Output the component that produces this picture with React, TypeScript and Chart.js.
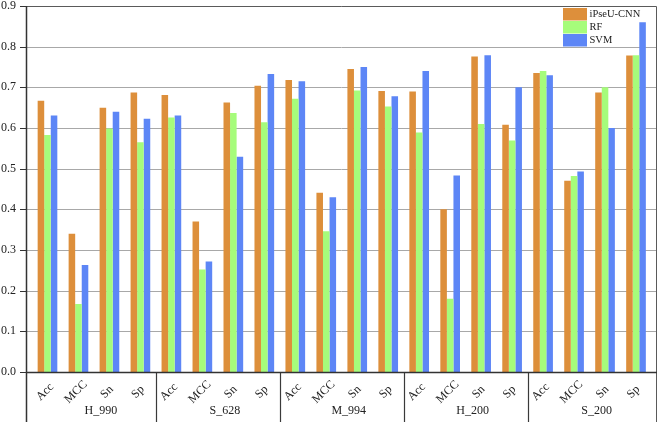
import React, { useEffect, useRef } from "react";
import { Chart, registerables } from "chart.js";

Chart.register(...registerables);

const groups = ["H_990", "S_628", "M_994", "H_200", "S_200"];
const metrics = ["Acc", "MCC", "Sn", "Sp"];
const categories = groups.flatMap(() => metrics);

const seriesNames = ["iPseU-CNN", "RF", "SVM"];
const seriesColors = ["#dd8f3b", "#a6fc7b", "#5d86f6"];

const ipseuCnn = [
  0.667, 0.34, 0.65, 0.687,
  0.681, 0.37, 0.663, 0.704,
  0.718, 0.441, 0.745, 0.691,
  0.69, 0.4, 0.776, 0.608,
  0.735, 0.47, 0.687, 0.778,
];
const rf = [
  0.583, 0.167, 0.599, 0.565,
  0.626, 0.252, 0.637, 0.614,
  0.672, 0.346, 0.692, 0.653,
  0.589, 0.18, 0.61, 0.569,
  0.74, 0.482, 0.7, 0.779,
];
const svm = [
  0.631, 0.263, 0.64, 0.623,
  0.631, 0.272, 0.529, 0.733,
  0.715, 0.43, 0.75, 0.678,
  0.74, 0.483, 0.779, 0.7,
  0.73, 0.493, 0.6, 0.86,
];

const yTicks = [0, 0.1, 0.2, 0.3, 0.4, 0.5, 0.6, 0.7, 0.8, 0.9];

const FONT = "'Liberation Serif', 'DejaVu Serif', serif";

const frameLeft = 26;
const frameRight = 657;
const frameBottom = 422;

const customPlugin = {
  id: "customFrame",
  beforeDatasetsDraw(chart: any) {
    const ctx = chart.ctx;
    const y = chart.scales.y;
    ctx.save();
    ctx.strokeStyle = "#a8a8a8";
    ctx.lineWidth = 1;
    yTicks.forEach((t) => {
      if (t === 0 || t === yTicks[yTicks.length - 1]) return;
      const py = Math.round(y.getPixelForValue(t)) + 0.5;
      ctx.beginPath();
      ctx.moveTo(frameLeft, py);
      ctx.lineTo(frameRight, py);
      ctx.stroke();
    });
    ctx.restore();
  },
  afterDraw(chart: any) {
    const ctx = chart.ctx;
    const y = chart.scales.y;
    const x = chart.scales.x;
    const top = Math.round(y.getPixelForValue(yTicks[yTicks.length - 1])) + 0.5;
    const base = Math.round(y.getPixelForValue(0)) + 0.5;
    const cw = (x.right - x.left) / categories.length;
    ctx.save();

    // top & right frame
    ctx.strokeStyle = "#5a5a5a";
    ctx.lineWidth = 1;
    ctx.beginPath();
    ctx.moveTo(frameLeft, top);
    ctx.lineTo(frameRight - 0.5, top);
    ctx.moveTo(frameRight - 0.5, top);
    ctx.lineTo(frameRight - 0.5, frameBottom);
    ctx.stroke();

    // separators
    ctx.strokeStyle = "#3a3a3a";
    ctx.lineWidth = 1.2;
    ctx.beginPath();
    for (let g = 1; g < groups.length; g++) {
      const sx = Math.round(x.left + g * metrics.length * cw) + 0.5;
      ctx.moveTo(sx, base);
      ctx.lineTo(sx, frameBottom);
    }
    ctx.stroke();

    // axes
    ctx.strokeStyle = "#333";
    ctx.lineWidth = 1.5;
    ctx.beginPath();
    ctx.moveTo(frameLeft + 0.5, top - 0.5);
    ctx.lineTo(frameLeft + 0.5, frameBottom);
    ctx.moveTo(frameLeft, base);
    ctx.lineTo(frameRight, base);
    ctx.stroke();

    // y tick marks
    ctx.lineWidth = 1;
    ctx.beginPath();
    yTicks.forEach((t) => {
      const py = Math.round(y.getPixelForValue(t)) + 0.5;
      ctx.moveTo(20, py);
      ctx.lineTo(frameLeft, py);
    });
    ctx.stroke();

    // metric labels
    ctx.fillStyle = "#222";
    ctx.font = `12px ${FONT}`;
    ctx.textAlign = "center";
    ctx.textBaseline = "middle";
    categories.forEach((label, i) => {
      const cx = x.getPixelForValue(i);
      ctx.save();
      ctx.translate(cx - 2.5, 392);
      ctx.rotate(-Math.PI / 4);
      ctx.fillText(label, 0, 0);
      ctx.restore();
    });

    // group labels
    groups.forEach((g, gi) => {
      const gx = x.left + (gi * metrics.length + metrics.length / 2) * cw;
      ctx.fillText(g, gx + 7, 411);
    });

    // legend
    ctx.font = `10.5px ${FONT}`;
    ctx.textAlign = "left";
    seriesNames.forEach((name, i) => {
      ctx.fillStyle = seriesColors[i];
      ctx.fillRect(563, 8 + 13 * i, 24, 12.5);
      ctx.fillStyle = "#222";
      ctx.fillText(name, 589.5, 14.5 + 13 * i);
    });

    ctx.restore();
  },
};

export default function App() {
  const ref = useRef<HTMLCanvasElement | null>(null);
  useEffect(() => {
    if (!ref.current) return;
    const values = [ipseuCnn, rf, svm];
    const chart = new Chart(ref.current, {
      type: "bar",
      data: {
        labels: categories,
        datasets: seriesNames.map((name, i) => ({
          label: name,
          data: values[i],
          backgroundColor: seriesColors[i],
          borderWidth: 0,
          categoryPercentage: 0.635,
          barPercentage: 1,
        })),
      },
      options: {
        responsive: false,
        animation: false,
        devicePixelRatio: 1,
        layout: { padding: { top: 6, right: 8.5, left: 0, bottom: 0 } },
        plugins: {
          legend: { display: false },
          tooltip: { enabled: false },
        },
        scales: {
          x: {
            type: "category",
            grid: { display: false },
            border: { display: false },
            ticks: { display: false },
            afterFit: (s: any) => {
              s.height = 53;
              s.paddingLeft = 0;
              s.paddingRight = 0;
            },
          },
          y: {
            min: 0,
            max: 0.9,
            grid: { display: false, drawTicks: false },
            border: { display: false },
            ticks: {
              stepSize: 0.1,
              padding: 16,
              color: "#222",
              font: { family: FONT, size: 12 },
              callback: (v: any) => Number(v).toFixed(1),
            },
            afterFit: (s: any) => {
              s.width = 32;
              s.paddingTop = 0;
              s.paddingBottom = 0;
            },
          },
        },
      },
      plugins: [customPlugin],
    });
    return () => chart.destroy();
  }, []);
  return (
    <div style={{ position: "absolute", left: 0, top: 0, width: 660, height: 425, background: "#fff" }}>
      <canvas ref={ref} width={660} height={425} style={{ display: "block" }} />
    </div>
  );
}
